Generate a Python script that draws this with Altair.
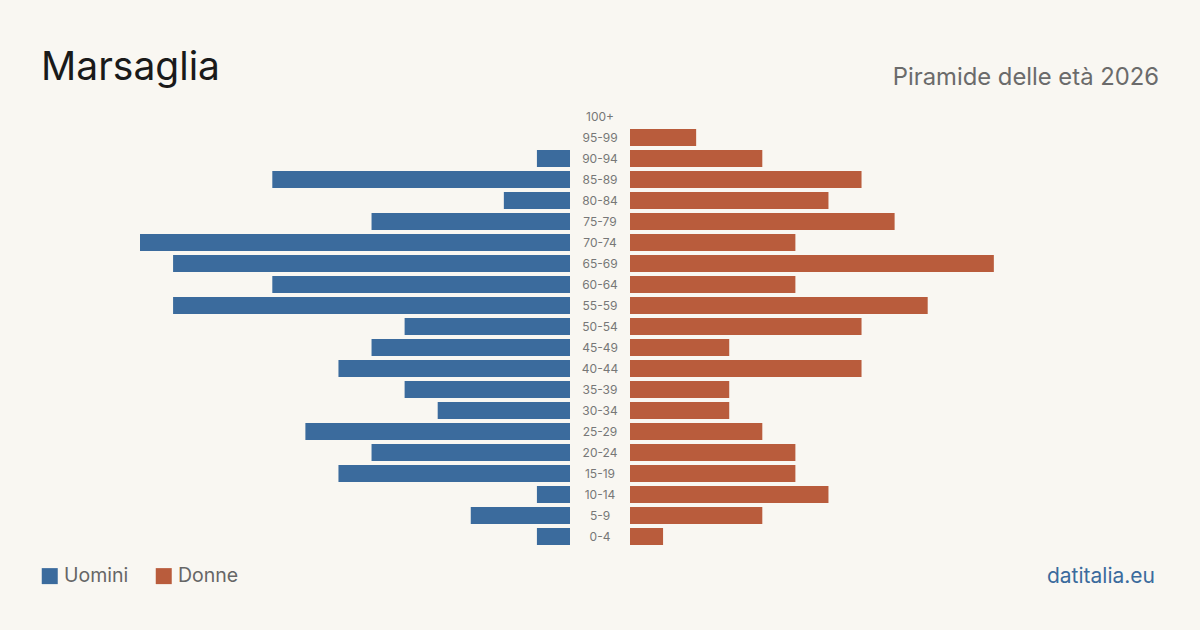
import altair as alt
import pandas as pd

ages = ["100+", "95-99", "90-94", "85-89", "80-84", "75-79", "70-74", "65-69",
        "60-64", "55-59", "50-54", "45-49", "40-44", "35-39", "30-34", "25-29",
        "20-24", "15-19", "10-14", "5-9", "0-4"]
uomini = [0, 0, 1, 9, 2, 6, 13, 12, 9, 12, 5, 6, 7, 5, 4, 8, 6, 7, 1, 3, 1]
donne = [0, 2, 4, 7, 6, 8, 5, 11, 5, 9, 7, 3, 7, 3, 3, 4, 5, 5, 6, 4, 1]
series = ["Uomini", "Donne"]
colors = ["#3b6b9d", "#b95c3c"]
title_text = "Marsaglia"
subtitle_text = "Piramide delle età 2026"
source_text = "datitalia.eu"

df = pd.DataFrame(
    [{"age": a, "sex": series[0], "value": v} for a, v in zip(ages, uomini)]
    + [{"age": a, "sex": series[1], "value": v} for a, v in zip(ages, donne)]
)
lab = pd.DataFrame({"age": ages})

FONT = "Inter"
W, H = 920, 441
vmax = max(max(uomini), max(donne))

ysc = alt.Y("age:N", sort=ages, axis=None,
            scale=alt.Scale(paddingInner=0.2, paddingOuter=0.1))
color = alt.Color("sex:N", scale=alt.Scale(domain=series, range=colors),
                  legend=alt.Legend(orient="none", legendX=-100, legendY=460,
                                    direction="horizontal", title=None,
                                    symbolType="square", symbolSize=256,
                                    symbolStrokeWidth=0, symbolOpacity=1,
                                    labelFontSize=19.5, labelFont=FONT,
                                    labelColor="#666666", columnPadding=25,
                                    labelOffset=4.5))

base = alt.Chart(df)
male = base.transform_filter(alt.datum.sex == series[0]).mark_bar().encode(
    x=alt.X("value:Q", axis=None, scale=alt.Scale(domain=[0, vmax], range=[430, 0])),
    y=ysc, color=color)
female = base.transform_filter(alt.datum.sex == series[1]).mark_bar().encode(
    x=alt.X("value:Q", axis=None, scale=alt.Scale(domain=[0, vmax], range=[490, 920])),
    y=ysc, color=color)
labels = alt.Chart(lab).mark_text(font=FONT, fontSize=12, color="#777777").encode(
    y=ysc, text="age:N", x=alt.value(460))

def txt(s, x, y, size, col, align="left", weight="normal"):
    return alt.Chart(pd.DataFrame({"t": [s]})).mark_text(
        font=FONT, fontSize=size, color=col, align=align, baseline="alphabetic",
        fontWeight=weight).encode(text="t:N", x=alt.value(x), y=alt.value(y))

title = txt(title_text, -99, -26, 39, "#1a1a1a")
subtitle = txt(subtitle_text, 1019, -21, 23.8, "#6b6b6b", align="right")
source = txt(source_text, 1015, 477, 21, "#3b6b9d", align="right")

chart = alt.layer(male, female, labels, title, subtitle, source).resolve_scale(
    x="independent").properties(
    width=W, height=H,
    autosize=alt.AutoSizeParams(type="none"),
    padding={"left": 140, "top": 106, "right": 140, "bottom": 83},
    background="#f9f7f2",
).configure_view(stroke=None)

chart.save("out.html", embed_options={"renderer": "svg", "actions": False})
